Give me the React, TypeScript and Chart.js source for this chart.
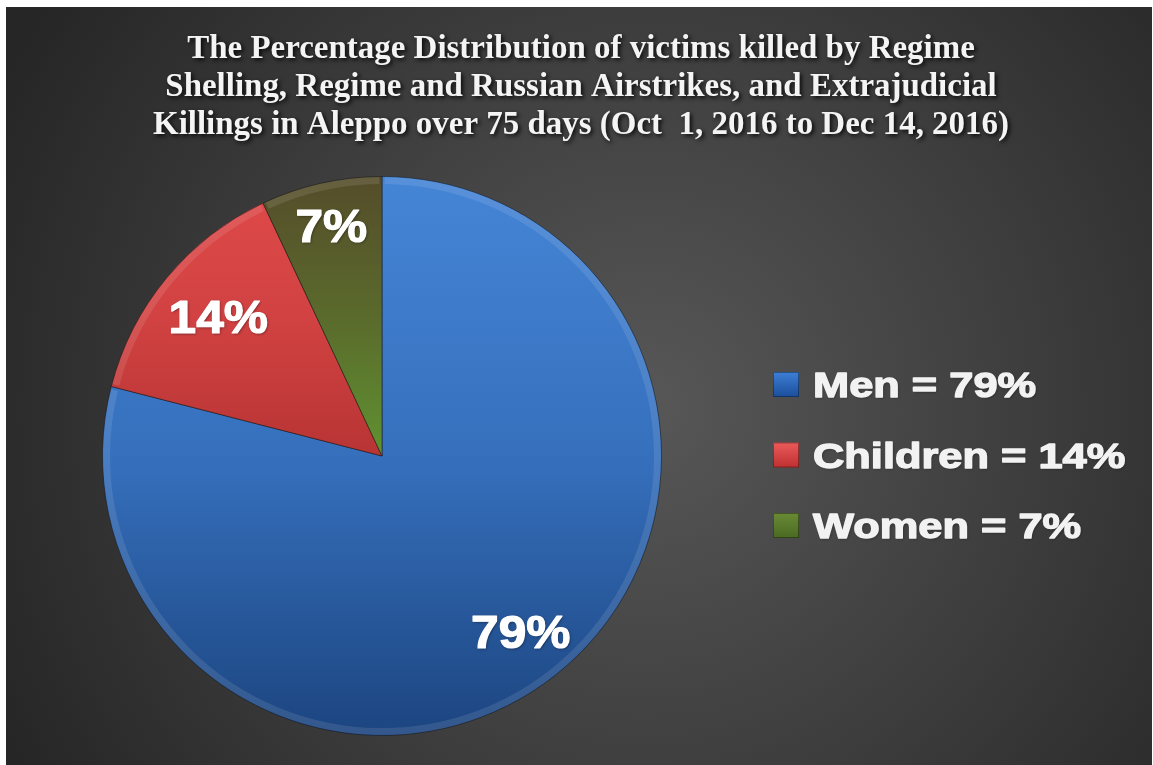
import React, { useEffect, useRef } from "react";
import { Chart, registerables } from "chart.js";
Chart.register(...registerables);

const categories = ["Men", "Children", "Women"];
const values = [79, 14, 7];
const titleLines = [
  "The Percentage Distribution of victims killed by Regime",
  "Shelling, Regime and Russian Airstrikes, and Extrajudicial",
  "Killings in Aleppo over 75 days (Oct  1, 2016 to Dec 14, 2016)",
];

const sliceGrad = [
  ["#4585d6", "#3670bd", "#1c4580"],
  ["#e04a4a", "#d24242", "#b83434"],
  ["#554c2a", "#5a6a2c", "#609230"],
];
const markerGrad = [
  ["#3d7fd6", "#1b4e9a"],
  ["#ec5a5a", "#c03030"],
  ["#6a8a36", "#4a6a22"],
];
const labelFactor = [0.81, 0.76, 0.83];

const W = 1146;
const H = 758;

const bgPlugin = {
  id: "bg",
  beforeDraw(chart: any) {
    const ctx = chart.ctx;
    ctx.save();
    const g = ctx.createRadialGradient(640, 400, 20, 640, 400, 720);
    g.addColorStop(0, "#565656");
    g.addColorStop(0.55, "#3c3c3c");
    g.addColorStop(1, "#262626");
    ctx.fillStyle = g;
    ctx.fillRect(0, 0, chart.width, chart.height);
    ctx.restore();
  },
};

function boldText(ctx: any, text: string, x: number, y: number, sx: number, color: string, shadow: string, lw: number) {
  ctx.save();
  ctx.translate(x, y);
  ctx.scale(sx, 1);
  ctx.fillStyle = color;
  ctx.shadowColor = shadow;
  ctx.shadowBlur = 3;
  ctx.shadowOffsetX = 1;
  ctx.shadowOffsetY = 1;
  ctx.fillText(text, 0, 0);
  ctx.shadowColor = "transparent";
  ctx.strokeStyle = color;
  ctx.lineWidth = lw;
  ctx.lineJoin = "round";
  ctx.strokeText(text, 0, 0);
  ctx.fillText(text, 0, 0);
  ctx.restore();
}

const titlePlugin = {
  id: "customTitle",
  afterDraw(chart: any) {
    const ctx = chart.ctx;
    ctx.save();
    ctx.font = "bold 33px 'Liberation Serif', 'Times New Roman', serif";
    ctx.fillStyle = "#f4f4f4";
    ctx.textAlign = "center";
    ctx.textBaseline = "alphabetic";
    ctx.shadowColor = "rgba(0,0,0,0.85)";
    ctx.shadowBlur = 4;
    ctx.shadowOffsetX = 2;
    ctx.shadowOffsetY = 2;
    const sx = 856 / ctx.measureText(titleLines[2]).width;
    titleLines.forEach((line, i) => {
      ctx.save();
      ctx.translate(575, 51 + i * 38);
      ctx.scale(sx, 1);
      ctx.fillText(line, 0, 0);
      ctx.restore();
    });
    ctx.restore();
  },
};

const labelPlugin = {
  id: "sliceLabels",
  afterDatasetsDraw(chart: any) {
    const ctx = chart.ctx;
    const meta = chart.getDatasetMeta(0);
    ctx.save();
    ctx.font = "bold 46px 'Liberation Sans', Arial, sans-serif";
    ctx.textAlign = "center";
    ctx.textBaseline = "middle";
    meta.data.forEach((arc: any, i: number) => {
      const p = arc.getProps(["x", "y", "startAngle", "endAngle", "outerRadius"], true);
      const mid = (p.startAngle + p.endAngle) / 2;
      const r = p.outerRadius * labelFactor[i];
      const x = p.x + Math.cos(mid) * r;
      const y = p.y + Math.sin(mid) * r;
      boldText(ctx, values[i] + "%", x, y, 1.08, "#ffffff", "rgba(0,0,0,0.45)", 1.2);
    });
    ctx.restore();
  },
};

const legendPlugin = {
  id: "customLegend",
  afterDraw(chart: any) {
    const ctx = chart.ctx;
    ctx.save();
    categories.forEach((c, i) => {
      const base = 390 + i * 70.5;
      const mx = 767;
      const my = base - 25;
      const g = ctx.createLinearGradient(0, my, 0, my + 25);
      g.addColorStop(0, markerGrad[i][0]);
      g.addColorStop(1, markerGrad[i][1]);
      ctx.fillStyle = g;
      ctx.fillRect(mx, my, 26, 25);
      ctx.strokeStyle = "rgba(0,0,0,0.35)";
      ctx.lineWidth = 1;
      ctx.strokeRect(mx + 0.5, my + 0.5, 25, 24);
      ctx.font = "bold 35px 'Liberation Sans', Arial, sans-serif";
      ctx.textAlign = "left";
      ctx.textBaseline = "alphabetic";
      boldText(ctx, c + " = " + values[i] + "%", 807, base, 1.24, "#f2f2f2", "rgba(0,0,0,0.4)", 1.3);
    });
    ctx.restore();
  },
};

const rimPlugin = {
  id: "rim",
  afterDatasetsDraw(chart: any) {
    const ctx = chart.ctx;
    const meta = chart.getDatasetMeta(0);
    ctx.save();
    meta.data.forEach((arc: any) => {
      const p = arc.getProps(["x", "y", "startAngle", "endAngle", "outerRadius"], true);
      ctx.beginPath();
      ctx.arc(p.x, p.y, p.outerRadius - 4, p.startAngle + 0.01, p.endAngle - 0.01);
      ctx.strokeStyle = "rgba(255,255,255,0.10)";
      ctx.lineWidth = 7;
      ctx.stroke();
    });
    ctx.restore();
  },
};

export default function App() {
  const ref = useRef<HTMLCanvasElement | null>(null);
  useEffect(() => {
    if (!ref.current) return;
    const chart = new Chart(ref.current, {
      type: "pie",
      data: {
        labels: categories,
        datasets: [
          {
            data: values,
            backgroundColor: (c: any) => {
              const chart = c.chart;
              const area = chart.chartArea;
              const i = c.dataIndex;
              if (!area) return sliceGrad[i][1];
              const cy = (area.top + area.bottom) / 2;
              const bottom = i === 0 ? area.bottom : cy;
              const g = chart.ctx.createLinearGradient(0, area.top, 0, bottom);
              g.addColorStop(0, sliceGrad[i][0]);
              g.addColorStop(0.5, sliceGrad[i][1]);
              g.addColorStop(1, sliceGrad[i][2]);
              return g;
            },
            borderColor: "rgba(25,25,25,0.55)",
            borderWidth: 1,
          },
        ],
      },
      options: {
        responsive: false,
        animation: false,
        layout: { padding: { left: 96, top: 169, right: 490, bottom: 29 } },
        plugins: {
          legend: { display: false },
          title: { display: false },
          tooltip: { enabled: false },
        },
      },
      plugins: [bgPlugin, rimPlugin, labelPlugin, titlePlugin, legendPlugin],
    });
    return () => chart.destroy();
  }, []);
  return (
    <div style={{ position: "absolute", left: 6, top: 7, width: W, height: H }}>
      <canvas ref={ref} width={W} height={H} style={{ width: W, height: H, display: "block" }} />
    </div>
  );
}
